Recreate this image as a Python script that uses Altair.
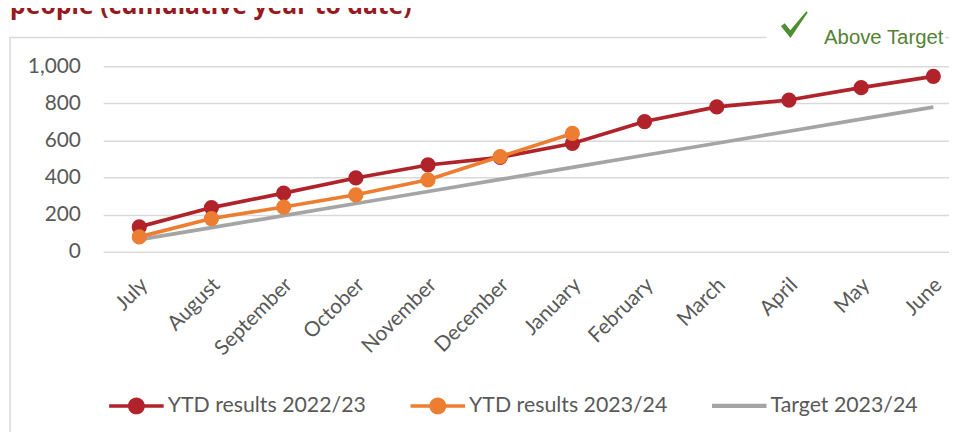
import json
import altair as alt
import pandas as pd

months = ["July", "August", "September", "October", "November", "December",
          "January", "February", "March", "April", "May", "June"]
ytd_2223 = [134, 238, 316, 398, 468, 509, 584, 702, 781, 818, 885, 946]
ytd_2324 = [80, 179, 241, 307, 388, 513, 638]
target_2324 = [65, 130, 195, 260, 325, 390, 455, 520, 585, 650, 715, 780]
series_names = ["YTD results 2022/23", "YTD results 2023/24", "Target 2023/24"]
series_colors = ["#B0232A", "#ED7D31", "#A5A5A5"]
title_text = "people (cumulative year to date)"
badge_text = "Above Target"
y_ticks = [0, 200, 400, 600, 800, 1000]

rows = []
for name, vals in zip(series_names, [ytd_2223, ytd_2324, target_2324]):
    for i, v in enumerate(vals):
        rows.append({"series": name, "idx": i, "month": months[i], "value": v})
df = pd.DataFrame(rows)

W, H = 853, 187
STEP = 72.8
x_dom = [-0.5, -0.5 + W / STEP]
FONT = "Lato"
TXT = "#595959"

color_scale = alt.Scale(domain=series_names, range=series_colors)
r = 0.31
circ = f"M{r},0A{r},{r},0,1,1,-{r},0A{r},{r},0,1,1,{r},0Z"
shapes = [
    "M-1,-0.064H1V0.064H-1Z" + circ,
    "M-1,-0.064H1V0.064H-1Z" + circ,
    "M-1,-0.075H1V0.075H-1Z",
]
shape_scale = alt.Scale(domain=series_names, range=shapes)
check_path = "M-1,0.12L-0.72,-0.1L-0.3,0.42L0.9,-1L1,-0.9L-0.28,1Z"

legend_spec = alt.Legend(orient="none", legendX=6, legendY=315,
                         direction="horizontal", columnPadding=44,
                         symbolSize=3025, symbolOpacity=1,
                         symbolStrokeWidth=0, labelOffset=4,
                         labelFont=FONT, labelFontSize=21.5,
                         labelColor=TXT, labelLimit=400)

label_expr = json.dumps(months) + "[datum.value]"
x_enc = alt.X("idx:Q", scale=alt.Scale(domain=x_dom, nice=False, zero=False),
              axis=alt.Axis(values=list(range(12)), labelExpr=label_expr, title=None,
                            grid=False, ticks=False, domain=False, labelAngle=-45,
                            labelAlign="right", labelBaseline="middle", labelPadding=30,
                            labelOffset=5,
                            labelOverlap=False, labelBound=False,
                            labelFont=FONT, labelFontSize=21, labelColor=TXT))
y_enc = alt.Y("value:Q", scale=alt.Scale(domain=[0, 1000], nice=False),
              axis=alt.Axis(values=y_ticks, labelExpr="format(datum.value, ',')",
                            title=None, grid=True,
                            gridColor="#D9D9D9", gridWidth=1.5, ticks=False, domain=False,
                            labelPadding=23, labelFont=FONT, labelFontSize=21,
                            labelColor=TXT))

base = alt.Chart(df).encode(x=x_enc, y=y_enc)
color_enc = alt.Color("series:N", scale=color_scale, title=None, legend=legend_spec)

def line_layer(name):
    return base.transform_filter(alt.datum.series == name).mark_line(strokeWidth=3.7).encode(
        color=color_enc)

def dot_layer(name):
    return base.transform_filter(alt.datum.series == name).mark_circle(size=235, opacity=1).encode(
        color=color_enc)

legend_layer = base.mark_point(filled=True, opacity=0).encode(
    color=color_enc,
    shape=alt.Shape("series:N", scale=shape_scale, title=None, legend=legend_spec),
)

one = pd.DataFrame({"t": [title_text], "b": [badge_text]})
box = alt.Chart(one).mark_rect(fill=None, stroke="#D9D9D9", strokeWidth=1.5).encode(
    x=alt.value(-94), x2=alt.value(880), y=alt.value(-29), y2=alt.value(420))
badge_bg = alt.Chart(one).mark_rect(fill="white").encode(
    x=alt.value(669), x2=alt.value(849), y=alt.value(-40), y2=alt.value(-18))
check = alt.Chart(one).mark_point(shape=check_path, filled=True, size=729,
                                  color="#4E8F2F", opacity=1).encode(
    x=alt.value(697), y=alt.value(-42))
badge = alt.Chart(one).mark_text(font="Liberation Sans", fontSize=20.5, color="#548235",
                                 align="left", baseline="alphabetic").encode(
    x=alt.value(727), y=alt.value(-23), text="b:N")
title = alt.Chart(one).mark_text(font="Noto Sans", fontWeight="bold", fontSize=25,
                                 color="#971B1E", align="left", baseline="alphabetic").encode(
    x=alt.value(-94), y=alt.value(-53), text="t:N")

chart = alt.layer(
    box, badge_bg, check, badge, title,
    line_layer("Target 2023/24"),
    line_layer("YTD results 2022/23"), dot_layer("YTD results 2022/23"),
    line_layer("YTD results 2023/24"), dot_layer("YTD results 2023/24"),
    legend_layer,
).properties(
    width=W, height=H,
    autosize=alt.AutoSizeParams(type="none"),
    padding={"left": 96, "top": 57, "right": 0, "bottom": 180},
).configure_view(stroke=None)

chart.save("out.html", embed_options={"renderer": "svg", "actions": False})
